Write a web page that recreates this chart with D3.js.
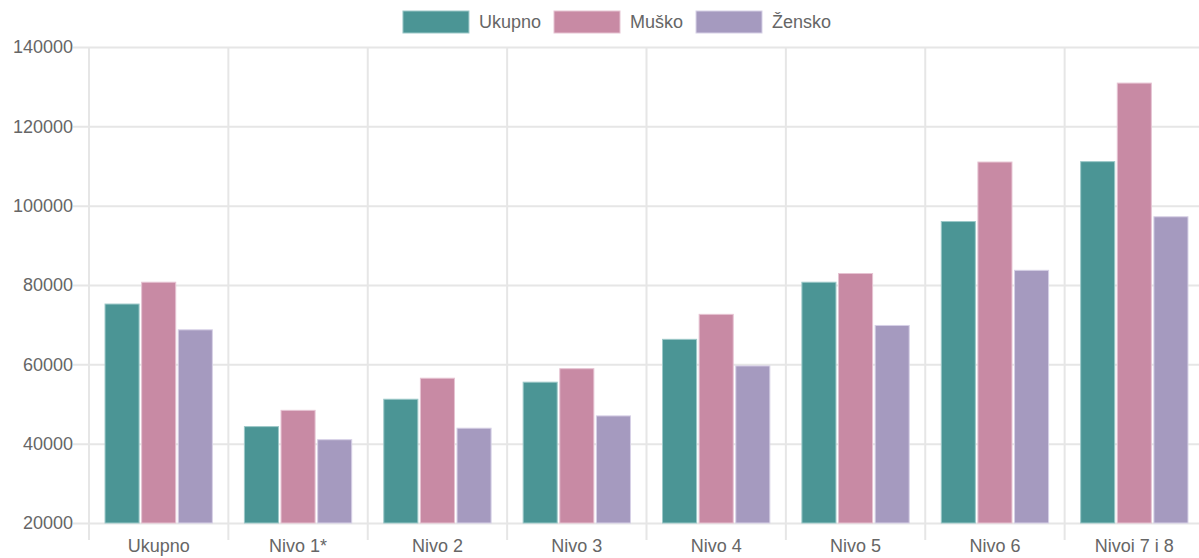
<!DOCTYPE html>
<html>
<head>
<meta charset="utf-8">
<title></title>
<script src="https://d3js.org/d3.v7.min.js"></script>
<style type="text/css">
  body{margin:0;background:#fff;}
  svg{display:block;font-family:"Liberation Sans", Arial, Helvetica, sans-serif;}
</style>
</head>
<body>
<div id='graph-container'></div>
<script type="text/javascript">

var categories = ['Ukupno', 'Nivo 1*', 'Nivo 2', 'Nivo 3', 'Nivo 4', 'Nivo 5', 'Nivo 6', 'Nivoi 7 i 8']
var seriesNames = ['Ukupno', 'Muško', 'Žensko']
var ukupno = [75200, 44300, 51200, 55500, 66300, 80700, 96000, 111100]
var musko  = [80700, 48400, 56500, 58900, 72600, 82900, 111000, 130900]
var zensko = [68700, 41000, 43900, 47000, 59600, 69800, 83700, 97200]
var yTicks = [20000, 40000, 60000, 80000, 100000, 120000, 140000]

var colors = ['#4b9595', '#c88aa4', '#a59abf']
var edges = ['#9cc8c8', '#e6c3d2', '#d6d0e6']

var width = 1199, height = 558
var margin = {top: 47, right: -5, bottom: 35, left: 89}

var svg = d3.select('#graph-container').append('svg')
  .attr('width', width)
  .attr('height', height)

var xScale = d3.scaleBand()
  .domain(categories)
  .range([margin.left, width - margin.right])
  .padding(0)
var xInner = d3.scaleBand()
  .domain(seriesNames)
  .range([xScale.bandwidth()*0.115, xScale.bandwidth()*0.885])
  .paddingInner(0.07)
var yScale = d3.scaleLinear()
  .domain([20000, 140000])
  .range([height - margin.bottom, margin.top])

var bottom = yScale(20000)

// grid
var yGrid = svg.append('g')
  .attr('transform', `translate(${margin.left},0)`)
  .call(d3.axisLeft(yScale).tickValues(yTicks).tickSize(-(width - margin.right - margin.left)).tickFormat(''))
yGrid.select('.domain').remove()
yGrid.selectAll('line').attr('stroke', '#e6e6e6').attr('stroke-width', 2).attr('x1', -16)

var xGrid = svg.append('g')
  .attr('transform', `translate(0,${bottom + 17})`)
var bounds = categories.map((c)=>xScale(c)).concat([xScale.range()[1]])
xGrid.selectAll('line').data(bounds).enter().append('line')
  .attr('x1', (d)=>d).attr('x2', (d)=>d)
  .attr('y1', 0).attr('y2', -(bottom + 17 - margin.top))
  .attr('stroke', '#e6e6e6').attr('stroke-width', 2)

// bars
var data = [ukupno, musko, zensko]
var groups = svg.selectAll('g.cat')
  .data(categories)
  .enter().append('g')
  .attr('class', 'cat')
  .attr('transform', (d)=>`translate(${xScale(d)},0)`)

groups.selectAll('rect')
  .data((d, i)=>seriesNames.map((s, j)=>({s:s, j:j, v:data[j][i]})))
  .enter().append('rect')
  .attr('x', (d)=>xInner(d.s))
  .attr('width', xInner.bandwidth())
  .attr('y', (d)=>yScale(d.v))
  .attr('height', (d)=>bottom - yScale(d.v))
  .attr('fill', (d)=>colors[d.j])
  .attr('stroke', (d)=>edges[d.j])
  .attr('stroke-width', 1)

// axes
var yAxis = svg.append('g')
  .attr('transform', `translate(${margin.left},0)`)
  .call(d3.axisLeft(yScale).tickValues(yTicks).tickSize(0).tickPadding(16).tickFormat(d3.format('d')))
yAxis.select('.domain').remove()
yAxis.selectAll('text').attr('font-size', 18).attr('fill', '#666').attr('font-family', null)

var xAxis = svg.append('g')
  .attr('transform', `translate(0,${bottom})`)
  .call(d3.axisBottom(xScale).tickSize(0).tickPadding(16))
xAxis.select('.domain').remove()
xAxis.selectAll('text').attr('font-size', 18).attr('fill', '#666').attr('font-family', null)

// legend
var legend = svg.append('g')
var lx = 0
var items = legend.selectAll('g').data(seriesNames).enter().append('g')
items.append('rect')
  .attr('width', 66).attr('height', 22).attr('y', 11)
  .attr('fill', (d, i)=>colors[i])
  .attr('stroke', (d, i)=>edges[i])
items.append('text')
  .attr('x', 76).attr('y', 28)
  .attr('font-size', 18).attr('fill', '#666')
  .text((d)=>d)
items.each(function(){
  d3.select(this).attr('transform', `translate(${lx},0)`)
  lx += 76 + this.querySelector('text').getComputedTextLength() + 13
})
var legendWidth = lx - 13
legend.attr('transform', `translate(${617 - legendWidth/2},0)`)

</script>
</body>
</html>
